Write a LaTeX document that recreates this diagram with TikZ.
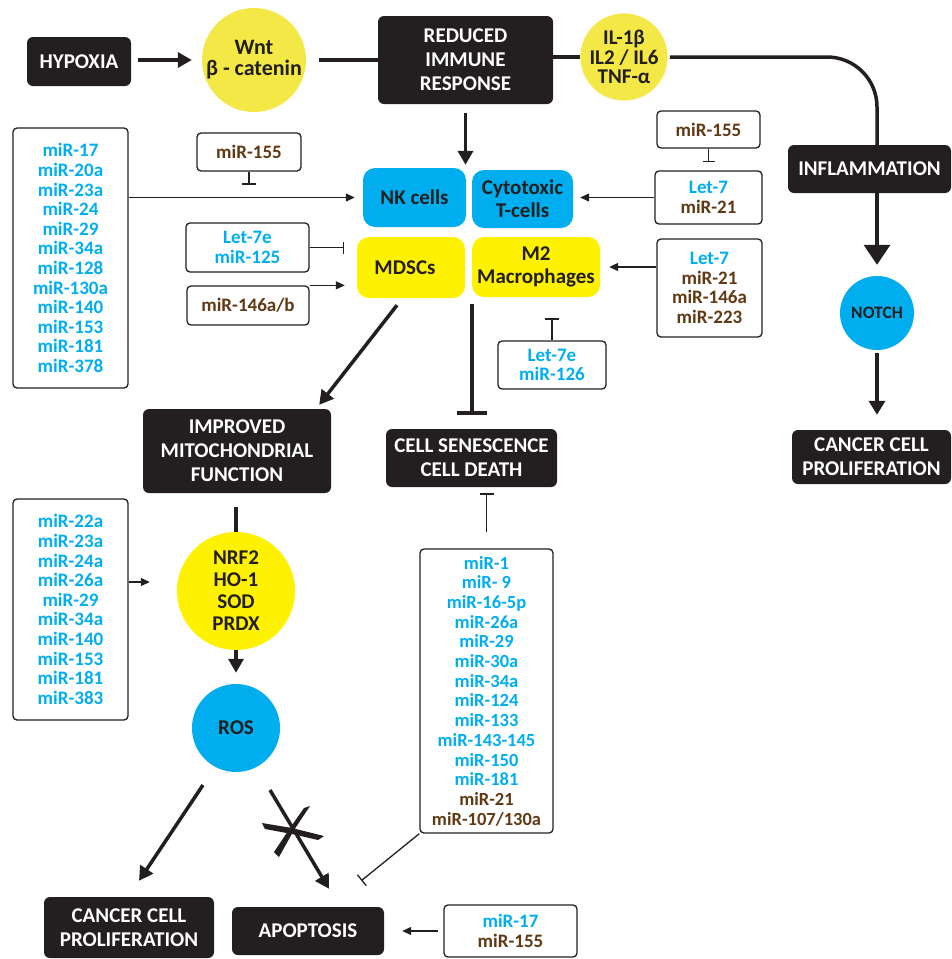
\documentclass[tikz,border=0pt]{standalone}
\usepackage{fontspec}
\setmainfont{Carlito}
\usetikzlibrary{arrows.meta,calc}
\definecolor{dk}{HTML}{231F20}
\definecolor{cyanb}{HTML}{00AEEF}
\definecolor{yel}{HTML}{FFF200}
\definecolor{yelw}{HTML}{F3E845}
\definecolor{brn}{HTML}{603913}
\newcommand\blu[1]{\textcolor{cyanb}{#1}}
\newcommand\brw[1]{\textcolor{brn}{#1}}
\begin{document}
\begin{tikzpicture}[x=1pt,y=-1pt,
 bbox/.style={fill=dk, rounded corners=6pt, text=white, font=\bfseries\fontsize{21}{24}\selectfont, align=center, inner sep=0pt},
 cbox/.style={rounded corners=12pt, text=dk, font=\bfseries\fontsize{21}{23}\selectfont, align=center, inner sep=0pt},
 wbox/.style={draw=dk, line width=1.3pt, rounded corners=4pt, fill=white, font=\bfseries\fontsize{19}{19.6}\selectfont, align=center, inner sep=0pt},
 circ/.style={circle, inner sep=0pt, text=dk, font=\bfseries\fontsize{21}{22}\selectfont, align=center},
 tkl/.style={line width=3.5pt, draw=dk},
 tnl/.style={line width=1.3pt, draw=dk},
 bigtip/.style={-{Triangle[width=15pt,length=14pt]}},
 smalltip/.style={-{Triangle[width=8pt,length=9pt]}},
]
\useasboundingbox (0,0) rectangle (951,959);

% top row
\node[bbox, minimum width=104pt, minimum height=49pt] (hyp) at (79,61.5) {HYPOXIA};
\node[circ, fill=yelw, minimum size=104pt, font=\bfseries\fontsize{22}{21}\selectfont] (wnt) at (254,60) {Wnt\\β - catenin};
\node[bbox, minimum width=175pt, minimum height=88pt] (rir) at (465.5,60) {REDUCED\\IMMUNE\\RESPONSE};
\node[circ, fill=yelw, minimum size=86pt, font=\bfseries\fontsize{21}{19.5}\selectfont] (il) at (624,57) {IL-1β\\IL2 / IL6\\TNF-α};
\node[bbox, minimum width=163pt, minimum height=48pt] (infl) at (869.5,169) {INFLAMMATION};
\node[circ, fill=cyanb, minimum size=74pt, font=\bfseries\fontsize{17.5}{19}\selectfont] (notch) at (877,313) {NOTCH};
\node[bbox, minimum width=159pt, minimum height=54pt] (ccp2) at (871.5,457) {CANCER CELL\\PROLIFERATION};

% cell boxes
\node[cbox, fill=cyanb, minimum width=103pt, minimum height=59pt] (nk) at (414.5,197.5) {NK cells};
\node[cbox, fill=cyanb, minimum width=101pt, minimum height=58pt] (ctl) at (522.5,199) {Cytotoxic\\T-cells};
\node[cbox, fill=yel, minimum width=108pt, minimum height=61pt] (mdsc) at (411,267.5) {MDSCs\hspace{12pt}};
\node[cbox, fill=yel, minimum width=128pt, minimum height=60pt] (m2) at (536,267) {M2\\Macrophages};

% miR boxes
\node[wbox, text=cyanb, minimum width=115pt, minimum height=260pt] (list1) at (70.5,258)
 {miR-17\\miR-20a\\miR-23a\\miR-24\\miR-29\\miR-34a\\miR-128\\miR-130a\\miR-140\\miR-153\\miR-181\\miR-378};
\node[wbox, text=brn, minimum width=104pt, minimum height=38pt] (m155a) at (249,152) {miR-155};
\node[wbox, text=cyanb, minimum width=123pt, minimum height=49pt] (l7e125) at (247.5,247.5) {Let-7e\\miR-125};
\node[wbox, text=brn, minimum width=122pt, minimum height=39pt] (m146) at (248,305.5) {miR-146a/b};
\node[wbox, text=brn, minimum width=103pt, minimum height=37pt] (m155b) at (708.5,129.5) {miR-155};
\node[wbox, minimum width=107pt, minimum height=53pt] (l7m21) at (708.5,197.5) {\blu{Let-7}\\\brw{miR-21}};
\node[wbox, minimum width=105pt, minimum height=98pt] (l7list) at (709.5,288) {\blu{Let-7}\\\brw{miR-21}\\\brw{miR-146a}\\\brw{miR-223}};
\node[wbox, text=cyanb, minimum width=108pt, minimum height=48pt] (l7e126) at (552,365) {Let-7e\\miR-126};

% middle
\node[bbox, minimum width=188pt, minimum height=84pt] (imf) at (237,451) {IMPROVED\\MITOCHONDRIAL\\FUNCTION};
\node[bbox, minimum width=171pt, minimum height=58pt] (ccd) at (471.5,458) {CELL SENESCENCE\\CELL DEATH};
\node[circ, fill=yel, minimum size=118pt] (nrf) at (236,591) {NRF2\\HO-1\\SOD\\PRDX};
\node[circ, fill=cyanb, minimum size=88pt] (ros) at (236,728) {ROS};
\node[wbox, text=cyanb, minimum width=115pt, minimum height=221pt] (list2) at (70.5,609.5)
 {miR-22a\\miR-23a\\miR-24a\\miR-26a\\miR-29\\miR-34a\\miR-140\\miR-153\\miR-181\\miR-383};
\node[wbox, text=cyanb, minimum width=133pt, minimum height=284pt, font=\bfseries\fontsize{18.5}{19.7}\selectfont] (list3) at (486.5,691)
 {miR-1\\miR- 9\\miR-16-5p\\miR-26a\\miR-29\\miR-30a\\miR-34a\\miR-124\\miR-133\\miR-143-145\\miR-150\\miR-181\\\brw{miR-21}\\\brw{miR-107/130a}};

% bottom
\node[bbox, minimum width=170pt, minimum height=61pt] (ccp1) at (129,927.5) {CANCER CELL\\PROLIFERATION};
\node[bbox, minimum width=152pt, minimum height=48pt] (apo) at (308,931) {APOPTOSIS};
\node[wbox, minimum width=133pt, minimum height=52pt] (m17) at (510.5,931) {\blu{miR-17}\\\brw{miR-155}};

% connectors top
\draw[tkl, bigtip, shorten <=7pt, shorten >=10pt] (hyp.east |- wnt.west) -- (wnt.west);
\draw[tkl, shorten <=13pt] (wnt.east) -- (rir.west |- wnt.east);
\draw[tkl] (rir.east |- il.west) -- (il.west);
\draw[tkl, rounded corners=50pt, shorten <=2pt] (il.east) -| (infl.north -| notch.center);
\draw[tkl, -{Triangle[width=26pt,length=20pt]}, shorten >=11pt] (infl.south -| notch.center) -- (notch.north);
\draw[tkl, -{Triangle[width=16pt,length=14pt]}, shorten <=3pt, shorten >=15pt] (notch.south) -- (ccp2.north -| notch.south);
\draw[tkl, bigtip, shorten <=9pt, shorten >=3pt] (rir.south) -- (rir.south |- nk.north);

% regulators of immune cells
\draw[tnl, smalltip, shorten >=8pt] (list1.east |- nk.west) -- (nk.west);
\draw[tnl, -{Bar[width=14pt]}] (m155a.south) -- ++(0,13);
\draw[tnl, -{Bar[width=12pt]}, shorten >=13pt] (l7e125.east) -- (mdsc.west |- l7e125.east);
\draw[tnl, smalltip, shorten >=12pt] (m146.north east) -- (mdsc.west |- m146.north east);
\draw[tnl, -{Bar[width=12pt]}, shorten >=8pt] (m155b.south) -- (m155b.south |- l7m21.north);
\draw[tnl, smalltip, shorten >=7pt] (l7m21.west) -- (ctl.east |- l7m21.west);
\draw[tnl, smalltip, shorten >=9pt] (l7list.west |- m2.east) -- (m2.east);
\draw[tnl, -{Bar[width=14pt]}, shorten >=21pt] (l7e126.north) -- (l7e126.north |- m2.south);

% middle connectors
\draw[tkl, bigtip] ($(mdsc.south)+(-14,7)$) -- ($(imf.north east)+(-12,-4)$);
\draw[tkl, -{Bar[width=30pt]}, shorten <=7pt, shorten >=14pt] (m2.south west) -- (m2.south west |- ccd.north);
\draw[tkl, shorten <=14pt] (imf.south -| nrf.north) -- (nrf.north);
\draw[tkl, bigtip, shorten >=11pt] (nrf.south) -- (ros.north);
\draw[tnl, smalltip] ($(list2.east |- nrf.center)+(0,-9)$) -- ($(nrf.west)+(-27,-9)$);
\draw[tnl, -{Bar[width=14pt]}] ($(list3.north)+(0,-16)$) -- ($(list3.north |- ccd.south)+(0,6)$);
\draw[tnl, -{Bar[width=14pt]}] (list3.south west) -- ($(list3.south west)+(-58,47)$);

% bottom connectors
\draw[tkl, bigtip] ($(ros)+(-33,57)$) -- ($(ccp1.north)+(10,-16)$);
\draw[tkl, bigtip] ($(ros)+(34,62)$) -- ($(apo.north)+(21,-18)$);
\fill[dk] (262,823) -- (292,828) -- (324,836) -- (318,840) -- (292,834) -- (265,829) -- cycle;
\fill[dk] (310,806) -- (294,830) -- (279,857) -- (274,852) -- (290,828) -- (304,808) -- cycle;
\draw[tnl, smalltip, shorten <=5pt, shorten >=18pt] (m17.west) -- (apo.east);
\end{tikzpicture}
\end{document}
